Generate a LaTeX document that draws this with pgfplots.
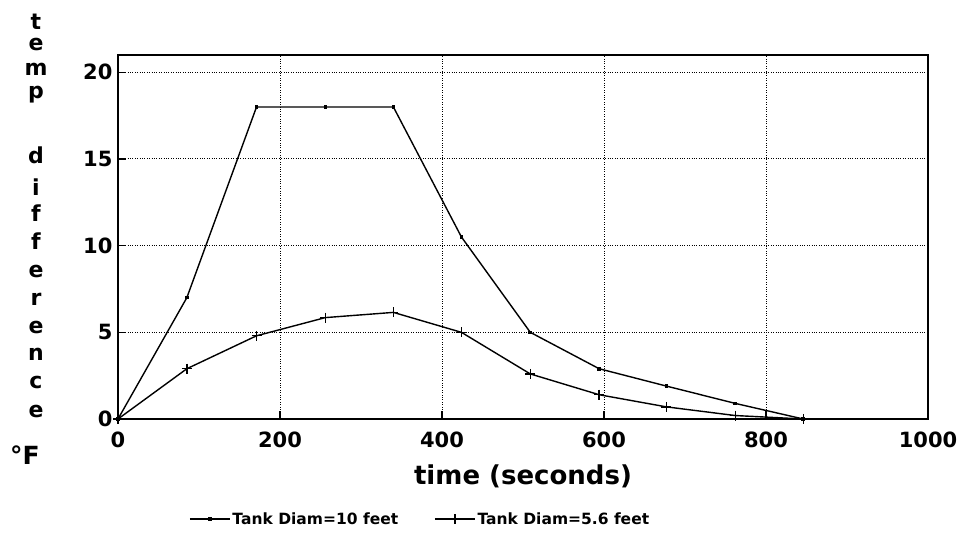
\documentclass[border=0pt]{standalone}
\usepackage{fontspec}
\setmainfont{DejaVu Sans}
\usepackage{pgfplots}
\pgfplotsset{compat=1.18}
\begin{document}
\begin{tikzpicture}
\path[use as bounding box] (0pt,0pt) rectangle (959pt,546pt);
\begin{axis}[
  at={(118pt,127pt)}, anchor=south west,
  width=810pt, height=364pt, scale only axis,
  xmin=0, xmax=1000, ymin=0, ymax=21,
  xtick={0,200,...,1000}, ytick={0,5,...,20},
  tick pos=left,
  grid=major, major grid style={black, dotted, line width=1pt},
  tick align=inside, major tick length=8pt,
  tick style={black, line width=1.2pt},
  axis line style={line width=1.5pt},
  ticklabel style={font=\fontsize{21}{21}\selectfont\bfseries},
  /pgf/number format/assume math mode=true,
  /pgf/number format/1000 sep={},
  xticklabel style={yshift=-9pt},
  yticklabel style={xshift=-2pt},
  clip=false,
  legend columns=2,
  legend style={at={(0.373,-0.275)}, anchor=center, draw=none, fill=none,
    font=\fontsize{15.5}{15.5}\selectfont\bfseries,
    /tikz/every even column/.append style={column sep=34pt}},
  legend image code/.code={\draw[#1, mark repeat=2, mark phase=2] plot coordinates {(0pt,0pt) (20pt,0pt) (40pt,0pt)};},
]
\addplot[black, line width=1.4pt, mark=square*, mark size=1.1pt] coordinates {
(0,0) (85,7) (171,18) (256,18) (340,18) (424,10.5) (509,5) (594,2.9) (677,1.9) (762,0.9) (846,0)
};
\addlegendentry{Tank Diam=10 feet}
\addplot[black, line width=1.4pt, mark=+, mark size=5pt, mark options={line width=1.4pt}] coordinates {
(0,0) (85,2.9) (171,4.8) (256,5.85) (340,6.15) (424,5.0) (509,2.6) (594,1.4) (677,0.7) (762,0.2) (846,0)
};
\addlegendentry{Tank Diam=5.6 feet}
\end{axis}
\node[anchor=base, font=\fontsize{26}{26}\selectfont\bfseries] at (523pt,61pt) {time (seconds)};
\begin{scope}[every node/.style={anchor=base, font=\fontsize{22}{22}\selectfont\bfseries, inner sep=0pt}]
\node at (36pt,516pt) {t};
\node at (36pt,495pt) {e};
\node at (36pt,470pt) {m};
\node at (36pt,447pt) {p};
\node at (36pt,382pt) {d};
\node at (36pt,350pt) {i};
\node at (36pt,324pt) {f};
\node at (36pt,296pt) {f};
\node at (36pt,268pt) {e};
\node at (36pt,240pt) {r};
\node at (36pt,212pt) {e};
\node at (36pt,185pt) {n};
\node at (36pt,157pt) {c};
\node at (36pt,128pt) {e};
\node[font=\fontsize{25}{25}\selectfont\bfseries] at (25pt,81pt) {°F};
\end{scope}
\end{tikzpicture}
\end{document}
